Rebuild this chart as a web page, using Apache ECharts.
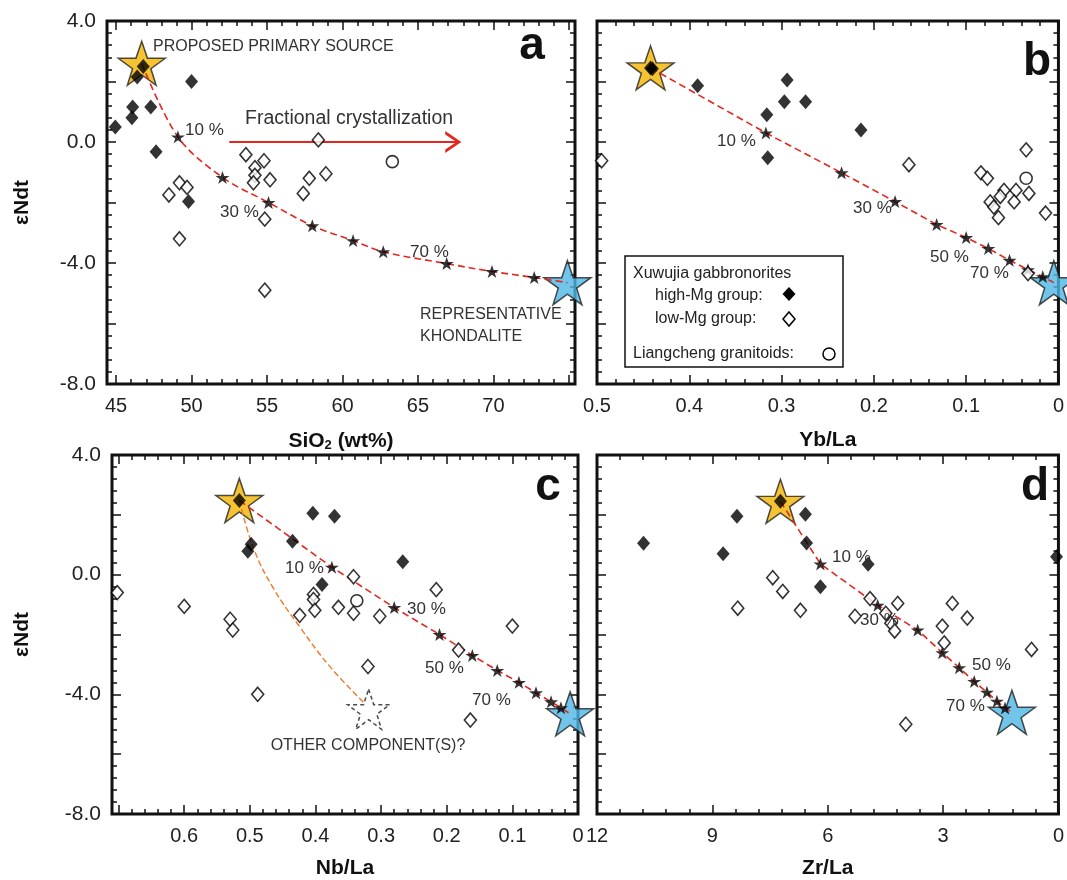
<!DOCTYPE html>
<html>
<head>
<meta charset="utf-8">
<script src="https://cdn.jsdelivr.net/npm/echarts@6/dist/echarts.min.js"></script>
<style>
  html, body { margin: 0; padding: 0; background: #fff; }
  #chart { width: 1067px; height: 880px; }
</style>
</head>
<body>
<div id="chart"></div>
<script>
// ---- data ----
// panel a: eNd(t) vs SiO2
const aHighMg = [[46.8, 2.5], [46.4, 2.15], [50.0, 2.0], [46.1, 1.16], [47.3, 1.16], [46.05, 0.8], [44.95, 0.5], [47.65, -0.32], [49.8, -1.97]]
const aLowMg = [[48.5, -1.75], [49.2, -1.35], [49.7, -1.5], [53.6, -0.42], [54.8, -0.62], [54.2, -0.85], [54.2, -1.1], [55.2, -1.25], [54.1, -1.35], [49.2, -3.2], [54.85, -2.55], [54.85, -4.9], [58.4, 0.07], [57.8, -1.2], [58.9, -1.05], [57.4, -1.7]]
const aGranitoid = [[63.3, -0.65]]
const aMixSteps = [[49.1, 0.17], [52.05, -1.17], [55.1, -2.0], [58.0, -2.77], [60.7, -3.26], [62.7, -3.63], [66.9, -4.02], [69.9, -4.28], [72.7, -4.48]]
const aSource = [46.7, 2.6]
const aKhondalite = [74.9, -4.65]
const aArrow = [[52.5, 0], [67.8, 0]]

// panel b: eNd(t) vs Yb/La
const bHighMg = [[0.44, 2.42], [0.391, 1.86], [0.294, 2.05], [0.297, 1.33], [0.274, 1.33], [0.316, 0.9], [0.315, -0.52], [0.214, 0.4]]
const bLowMg = [[0.495, -0.62], [0.162, -0.75], [0.035, -0.26], [0.084, -1.02], [0.077, -1.2], [0.032, -1.7], [0.046, -1.6], [0.059, -1.6], [0.063, -1.8], [0.048, -1.98], [0.074, -1.98], [0.07, -2.15], [0.014, -2.35], [0.065, -2.5], [0.033, -4.35]]
const bGranitoid = [[0.035, -1.2]]
const bMixSteps = [[0.317, 0.3], [0.235, -1.02], [0.177, -1.97], [0.132, -2.73], [0.1, -3.16], [0.076, -3.52], [0.053, -3.91], [0.033, -4.22], [0.017, -4.45]]
const bSource = [0.442, 2.45]
const bKhondalite = [0.005, -4.65]

// panel c: eNd(t) vs Nb/La
const cHighMg = [[0.516, 2.48], [0.498, 1.02], [0.503, 0.78], [0.435, 1.12], [0.404, 2.05], [0.371, 1.95], [0.267, 0.43], [0.39, -0.33]]
const cLowMg = [[0.702, -0.6], [0.6, -1.06], [0.53, -1.49], [0.526, -1.85], [0.342, -0.07], [0.403, -0.66], [0.403, -0.83], [0.401, -1.19], [0.424, -1.36], [0.365, -1.09], [0.342, -1.29], [0.302, -1.39], [0.216, -0.5], [0.182, -2.52], [0.1, -1.72], [0.32, -3.07], [0.488, -4.0], [0.164, -4.86]]
const cGranitoid = [[0.337, -0.87]]
const cMixSteps = [[0.375, 0.25], [0.28, -1.1], [0.211, -2.0], [0.161, -2.7], [0.123, -3.2], [0.09, -3.6], [0.064, -3.95], [0.041, -4.25], [0.026, -4.45]]
const cSource = [0.516, 2.48]
const cKhondalite = [0.012, -4.65]
const cOtherCurve = [[0.516, 2.48], [0.494, 0.86], [0.464, -0.46], [0.4225, -1.79], [0.377, -3.1], [0.327, -4.26]]
const cOther = [0.319, -4.5]

// panel d: eNd(t) vs Zr/La
const dHighMg = [[7.23, 2.45], [10.79, 1.05], [8.72, 0.7], [8.36, 1.95], [6.58, 2.02], [6.55, 1.06], [6.19, -0.4], [4.95, 0.35], [0.05, 0.6]]
const dLowMg = [[7.43, -0.1], [7.17, -0.56], [8.34, -1.12], [6.71, -1.19], [5.29, -1.39], [4.9, -0.8], [4.49, -1.29], [4.36, -1.62], [4.26, -1.88], [4.18, -0.96], [3.02, -1.72], [2.76, -0.96], [2.37, -1.45], [2.97, -2.28], [3.97, -5.0], [0.7, -2.5]]
const dMixSteps = [[6.19, 0.36], [4.7, -1.02], [3.66, -1.85], [3.02, -2.61], [2.58, -3.11], [2.19, -3.57], [1.86, -3.93], [1.6, -4.23], [1.39, -4.46]]
const dSource = [7.23, 2.45]
const dKhondalite = [1.21, -4.6]

// tick labels
const yLabelVals = [4, 0, -4, -8]
const aLabelVals = [45, 50, 55, 60, 65, 70]
const bLabelVals = [0.5, 0.4, 0.3, 0.2, 0.1, 0]
const cLabelVals = [0.6, 0.5, 0.4, 0.3, 0.2, 0.1, 0]
const dLabelVals = [12, 9, 6, 3, 0]

// ---- helpers ----
const steps = (a, b, s) => {
	const r = []
	for (let i = 0; a + i * s <= b + 1e-9; i++) r.push(+(a + i * s).toFixed(4))
	return r
}
const FONT = "Liberation Sans, Arial, sans-serif"
const STAR = "path://M50,0 L61.8,35.1 L98.1,35.1 L68.8,56.7 L79.4,90.9 L50,69.1 L20.6,90.9 L31.2,56.7 L1.9,35.1 L38.2,35.1 Z"
const CHEVRON = "path://M0,0 L10,5 L0,10 L0,8.4 L7,5 L0,1.6 Z"
const RED = "#e3271f"

const grids = [
	{ left: 107, top: 21, width: 468, height: 363 },
	{ left: 597, top: 21, width: 465, height: 363 },
	{ left: 112, top: 455, width: 466, height: 363 },
	{ left: 597, top: 455, width: 465, height: 363 },
].map((g) => ({ ...g, show: true, borderColor: "#111", borderWidth: 3, backgroundColor: "transparent" }))

function tickAxis(g, pos, cfg, ticks, len) {
	return {
		type: "value", gridIndex: g, position: pos,
		min: cfg.min, max: cfg.max, inverse: !!cfg.inverse,
		axisLine: { show: false, onZero: false }, splitLine: { show: false },
		axisLabel: { show: false },
		axisTick: { show: true, inside: true, length: len, customValues: ticks, lineStyle: { color: "#111", width: 1.5 } },
	}
}

function makeAxes(g, cfg, isX) {
	const p1 = isX ? "bottom" : "left"
	const p2 = isX ? "top" : "right"
	const main = tickAxis(g, p1, cfg, cfg.major, 9)
	if (cfg.labels) {
		main.axisLabel = {
			show: true, customValues: cfg.labels, formatter: cfg.fmt,
			fontSize: isX ? 20 : 21, color: "#222", fontFamily: FONT, margin: isX ? 12 : 11,
		}
	}
	if (cfg.name) {
		main.name = cfg.name
		main.nameLocation = "middle"
		main.nameGap = cfg.nameGap
		main.nameTextStyle = { fontSize: 21, fontWeight: "bold", color: "#111", fontFamily: FONT, rich: cfg.rich }
		if (!isX) main.nameRotate = 90
	}
	return [main, tickAxis(g, p1, cfg, cfg.minor, 5), tickAxis(g, p2, cfg, cfg.major, 9), tickAxis(g, p2, cfg, cfg.minor, 5)]
}

const decFmt = (v) => (v === 0 ? "0" : v.toFixed(1))
const yCfg = (withLabels, gap) => ({
	min: -8, max: 4, major: steps(-8, 4, 2), minor: steps(-8, 4, 0.4),
	labels: withLabels ? yLabelVals : null, fmt: (v) => v.toFixed(1),
	name: withLabels ? "εNdt" : null, nameGap: gap,
})
const subRich = {
	b: { fontSize: 21, fontWeight: "bold", fontFamily: FONT, color: "#111" },
	s: { fontSize: 13, fontWeight: "bold", fontFamily: FONT, color: "#111", padding: [9, 0, 0, 0] },
}
const xCfgs = [
	{ min: 44.4, max: 75.4, major: steps(45, 75, 5), minor: steps(45, 75, 1), labels: aLabelVals, fmt: (v) => String(v), name: "{b|SiO}{s|2}{b| (wt%)}", rich: subRich, nameGap: 46 },
	{ min: 0, max: 0.5, inverse: true, major: steps(0, 0.5, 0.1), minor: steps(0, 0.5, 0.02), labels: bLabelVals, fmt: decFmt, name: "Yb/La", nameGap: 46 },
	{ min: 0, max: 0.71, inverse: true, major: steps(0, 0.7, 0.1), minor: steps(0, 0.7, 0.02), labels: cLabelVals, fmt: decFmt, name: "Nb/La", nameGap: 44 },
	{ min: 0, max: 12, inverse: true, major: steps(0, 12, 3), minor: steps(0, 12, 0.6), labels: dLabelVals, fmt: (v) => String(v), name: "Zr/La", nameGap: 44 },
]
const yCfgs = [yCfg(true, 74), yCfg(false), yCfg(true, 79), yCfg(false)]

const xAxis = []
const yAxis = []
for (let g = 0; g < 4; g++) {
	xAxis.push(...makeAxes(g, xCfgs[g], true))
	yAxis.push(...makeAxes(g, yCfgs[g], false))
}

// ---- series builders ----
const ax = (g) => ({ xAxisIndex: g * 4, yAxisIndex: g * 4 })
const highMg = (g, data) => ({ type: "scatter", ...ax(g), data, symbol: "diamond", symbolSize: [13, 15], itemStyle: { color: "#000" }, z: 6, clip: false })
const lowMg = (g, data) => ({ type: "scatter", ...ax(g), data, symbol: "diamond", symbolSize: [12, 14], itemStyle: { color: "#fff", borderColor: "#000", borderWidth: 1.6 }, z: 5, clip: false })
const granitoid = (g, data) => ({ type: "scatter", ...ax(g), data, symbol: "circle", symbolSize: 12, itemStyle: { color: "#fff", borderColor: "#000", borderWidth: 1.6 }, z: 5, clip: false })
const mixLine = (g, src, steps, end, smooth) => ({ type: "line", ...ax(g), data: [src, ...steps, end], smooth: smooth ? 0.35 : false, showSymbol: false, lineStyle: { color: RED, width: 1.6, type: [7, 4] }, z: 3, silent: true })
const mixSteps = (g, data) => ({ type: "scatter", ...ax(g), data, symbol: STAR, symbolSize: [14, 13], itemStyle: { color: "#000" }, z: 4, clip: false })
const bigStar = (g, pt, color) => ({ type: "scatter", ...ax(g), data: [pt], symbol: STAR, symbolSize: [47, 44], itemStyle: { color, borderColor: "#222", borderWidth: 1.5 }, z: 2, clip: false })

const series = [
	bigStar(0, aSource, "#f4b400"), bigStar(0, aKhondalite, "#4fb6e5"),
	mixLine(0, aSource, aMixSteps, aKhondalite, true), mixSteps(0, aMixSteps),
	{
		type: "line", ...ax(0), showSymbol: true, showAllSymbol: true,
		data: [
			{ value: aArrow[0], symbol: "none" },
			{ value: aArrow[1], symbol: CHEVRON, symbolSize: [16, 22], symbolOffset: [-7, 0] },
		],
		lineStyle: { color: RED, width: 2 }, itemStyle: { color: RED }, z: 3,
	},
	lowMg(0, aLowMg), granitoid(0, aGranitoid), highMg(0, aHighMg),

	bigStar(1, bSource, "#f4b400"), bigStar(1, bKhondalite, "#4fb6e5"),
	mixLine(1, bSource, bMixSteps, bKhondalite, false), mixSteps(1, bMixSteps),
	lowMg(1, bLowMg), granitoid(1, bGranitoid), highMg(1, [bSource, ...bHighMg]),

	bigStar(2, cSource, "#f4b400"), bigStar(2, cKhondalite, "#4fb6e5"),
	{ type: "line", ...ax(2), data: cOtherCurve, smooth: 0.4, showSymbol: false, lineStyle: { color: "#f07a2a", width: 1.4, type: [6, 3] }, z: 3 },
	{ type: "scatter", ...ax(2), data: [cOther], symbol: STAR, symbolSize: [42, 40], itemStyle: { color: "rgba(255,255,255,0)", borderColor: "#222", borderWidth: 1.5, borderType: [4, 3] }, z: 2 },
	mixLine(2, cSource, cMixSteps, cKhondalite, false), mixSteps(2, cMixSteps),
	lowMg(2, cLowMg), granitoid(2, cGranitoid), highMg(2, cHighMg),

	bigStar(3, dSource, "#f4b400"), bigStar(3, dKhondalite, "#4fb6e5"),
	mixLine(3, dSource, dMixSteps, dKhondalite, false), mixSteps(3, dMixSteps),
	lowMg(3, dLowMg), highMg(3, dHighMg),
]

// ---- annotations ----
const txt = (x, y, text, size, extra) => ({
	type: "text", x, y, z: 20,
	style: { text, fill: "#333", font: `${size}px ${FONT}`, verticalAlign: "middle", align: "left", ...(extra || {}) },
})
const bold = (x, y, text) => txt(x, y, text, 46, { font: `bold 46px ${FONT}`, fill: "#111", align: "center" })

const graphic = [
	txt(153, 47, "PROPOSED PRIMARY SOURCE", 16),
	txt(245, 119, "Fractional crystallization", 19.5),
	txt(185, 130, "10 %", 17), txt(220, 212, "30 %", 17), txt(410, 252, "70 %", 17),
	txt(420, 315, "REPRESENTATIVE", 16), txt(420, 337, "KHONDALITE", 16),
	bold(532, 46, "a"),

	txt(717, 141, "10 %", 17), txt(853, 208, "30 %", 17), txt(930, 257, "50 %", 17), txt(970, 273, "70 %", 17),
	bold(1037, 62, "b"),
	{ type: "rect", z: 15, shape: { x: 625, y: 256, width: 218, height: 111 }, style: { fill: "#fff", stroke: "#111", lineWidth: 1.5 } },
	txt(633, 274, "Xuwujia gabbronorites", 16, { fill: "#222" }),
	txt(655, 296, "high-Mg group:", 16, { fill: "#222" }),
	txt(655, 319, "low-Mg group:", 16, { fill: "#222" }),
	txt(633, 354, "Liangcheng granitoids:", 16, { fill: "#222" }),
	{ type: "polygon", z: 21, shape: { points: [[789, 287], [795.5, 294], [789, 301], [782.5, 294]] }, style: { fill: "#000" } },
	{ type: "polygon", z: 21, shape: { points: [[789, 312], [795, 319], [789, 326], [783, 319]] }, style: { fill: "#fff", stroke: "#000", lineWidth: 1.5 } },
	{ type: "circle", z: 21, shape: { cx: 829, cy: 354, r: 6 }, style: { fill: "#fff", stroke: "#000", lineWidth: 1.5 } },

	txt(285, 568, "10 %", 17), txt(407, 609, "30 %", 17), txt(425, 668, "50 %", 17), txt(472, 700, "70 %", 17),
	txt(368, 746, "OTHER COMPONENT(S)?", 16, { align: "center" }),
	bold(548, 487, "c"),

	txt(832, 557, "10 %", 17), txt(860, 620, "30 %", 17), txt(972, 665, "50 %", 17), txt(946, 706, "70 %", 17),
	bold(1035, 487, "d"),
]

const chart = echarts.init(document.getElementById("chart"), null, { renderer: "canvas" })
chart.setOption({
	animation: false,
	backgroundColor: "#fff",
	textStyle: { fontFamily: FONT },
	grid: grids,
	xAxis,
	yAxis,
	series,
	graphic,
})
</script>
</body>
</html>
